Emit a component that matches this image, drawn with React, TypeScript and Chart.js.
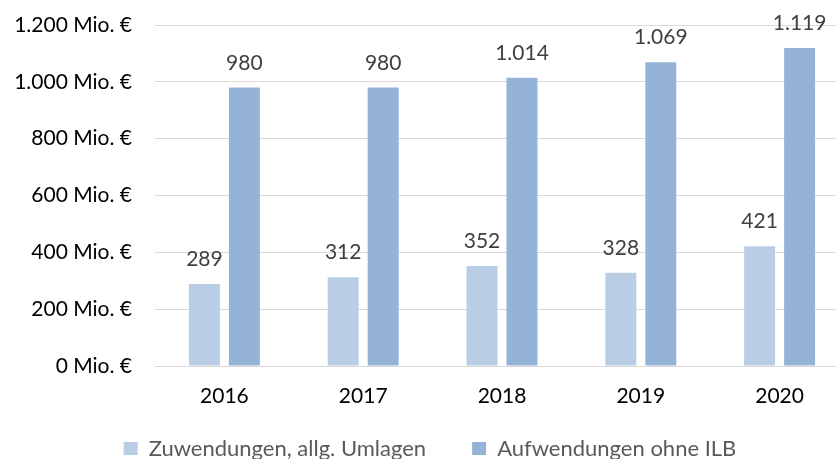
import React, { useEffect, useRef } from "react";
import { Chart, registerables } from "chart.js";

Chart.register(...registerables);

const categories = ["2016", "2017", "2018", "2019", "2020"];
const zuwendungen = [289, 312, 352, 328, 421];
const aufwendungen = [980, 980, 1014, 1069, 1119];
const seriesNames = ["Zuwendungen, allg. Umlagen", "Aufwendungen ohne ILB"];
const yTickValues = [0, 200, 400, 600, 800, 1000, 1200];

const FONT = "Lato";

function de(n: number): string {
  return String(Math.round(n)).replace(/\B(?=(\d{3})+(?!\d))/g, ".");
}

const valueLabels = {
  id: "valueLabels",
  afterDatasetsDraw(chart: any) {
    const ctx = chart.ctx;
    ctx.save();
    ctx.font = `21px ${FONT}`;
    ctx.fillStyle = "#404040";
    ctx.textAlign = "center";
    ctx.textBaseline = "alphabetic";
    chart.data.datasets.forEach((ds: any, di: number) => {
      const meta = chart.getDatasetMeta(di);
      meta.data.forEach((el: any, i: number) => {
        ctx.fillText(de(ds.data[i]), el.x, el.y - 18);
      });
    });
    ctx.restore();
  },
};

export default function App() {
  const ref = useRef<HTMLCanvasElement | null>(null);

  useEffect(() => {
    if (!ref.current) return;
    const chart = new Chart(ref.current, {
      type: "bar",
      data: {
        labels: categories,
        datasets: [
          {
            label: seriesNames[0],
            data: zuwendungen,
            backgroundColor: "#B9CDE5",
            borderWidth: 0,
            categoryPercentage: 0.576,
            barPercentage: 0.775,
          },
          {
            label: seriesNames[1],
            data: aufwendungen,
            backgroundColor: "#95B3D7",
            borderWidth: 0,
            categoryPercentage: 0.576,
            barPercentage: 0.775,
          },
        ],
      },
      options: {
        responsive: false,
        animation: false,
        devicePixelRatio: 1,
        layout: { padding: { top: 25, right: 19, bottom: -10.5, left: 11 } },
        plugins: {
          tooltip: { enabled: false },
          legend: {
            position: "bottom",
            labels: {
              boxWidth: 14,
              boxHeight: 13,
              padding: 46,
              color: "#595959",
              font: { family: FONT, size: 22 },
            },
          },
        },
        scales: {
          x: {
            grid: { display: false },
            border: { color: "#D9D9D9", width: 1 },
            ticks: {
              color: "#000000",
              font: { family: FONT, size: 21 },
              mirror: true,
              padding: -43.2,
            },
            afterFit: (s: any) => {
              s.height = 25.5;
            },
          },
          y: {
            min: 0,
            max: 1200,
            grid: {
              color: "#D9D9D9",
              lineWidth: 1,
              drawTicks: true,
              tickLength: 23,
              tickColor: "rgba(0,0,0,0)",
            },
            border: { display: false },
            ticks: {
              color: "#000000",
              font: { family: FONT, size: 21 },
              padding: 0,
              callback: (v: any) => `${de(Number(v))} Mio. €`,
            },
            afterBuildTicks: (s: any) => {
              s.ticks = yTickValues.map((v) => ({ value: v }));
            },
            afterFit: (s: any) => {
              s.width = 144;
            },
          },
        },
      },
      plugins: [valueLabels],
    });
    return () => chart.destroy();
  }, []);

  return (
    <div
      style={{
        position: "absolute",
        left: 0,
        top: 0,
        width: 836,
        height: 459,
        overflow: "hidden",
        background: "#ffffff",
      }}
    >
      <canvas ref={ref} width={868} height={459} style={{ display: "block" }} />
    </div>
  );
}
